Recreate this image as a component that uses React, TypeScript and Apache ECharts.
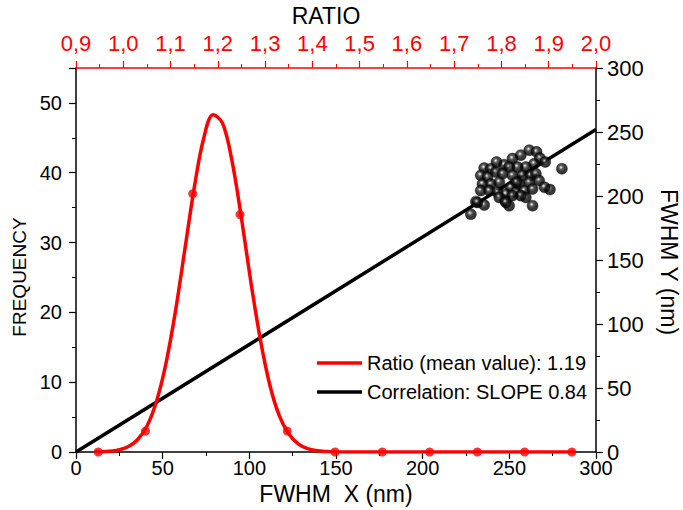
import React, { useEffect, useRef } from "react";
import * as echarts from "echarts";

// Histogram of ratio (red dots)
const ratioBins = [0.947, 1.047, 1.147, 1.247, 1.347, 1.448, 1.548, 1.648, 1.749, 1.849, 1.949];
const binFrequency = [0, 3, 37, 34, 3, 0, 0, 0, 0, 0, 0];

// Fitted curve (red line)
const fitRatio = [0.94, 0.95, 0.97, 0.99, 1.01, 1.03, 1.05, 1.07, 1.09, 1.11, 1.13, 1.15, 1.17, 1.19, 1.21, 1.23, 1.25, 1.27, 1.29, 1.31, 1.33, 1.35, 1.37, 1.39, 1.41, 1.43, 1.45, 1.5, 1.6, 1.7, 1.8, 1.9, 1.955];
const fitFrequency = [0.02, 0.03, 0.1, 0.29, 0.74, 1.75, 3.7, 7.2, 12.6, 20.0, 28.9, 37.8, 44.9, 48.3, 47.1, 41.7, 33.5, 24.3, 16.1, 9.6, 5.2, 2.6, 1.15, 0.47, 0.17, 0.06, 0.02, 0, 0, 0, 0, 0, 0];

// Scatter FWHM X vs FWHM Y (black spheres)
const fwhmX = [227.8, 230.7, 235.5, 247.6, 249.9, 263.4, 273.4, 280.3, 261.5, 265.7, 256.6, 251.8, 267.6, 270.7, 264.3, 247.0, 259.5, 254.7, 249.9, 235.5, 239.3, 242.2, 233.5, 237.4, 246.1, 251.8, 257.6, 262.4, 265.3, 234.5, 239.3, 244.2, 255.7, 267.2, 261.5, 233.5, 238.4, 243.2, 250.8, 253.7, 258.6, 263.4, 248.0, 259.5, 256.6, 244.2, 251.8, 231.6, 248.0, 254.1, 270.3, 242.6];
const fwhmY = [185.8, 195.6, 192.9, 196.3, 192.4, 192.4, 205.0, 221.3, 235.8, 234.5, 231.9, 229.2, 229.7, 226.6, 225.2, 224.4, 222.6, 222.6, 222.6, 221.8, 221.3, 218.7, 216.1, 214.7, 217.3, 216.1, 216.1, 216.1, 217.3, 209.4, 209.4, 210.8, 209.4, 212.1, 210.8, 204.2, 204.2, 202.9, 206.8, 202.9, 204.2, 205.5, 201.5, 198.9, 200.3, 198.9, 200.3, 195.0, 195.0, 210.8, 206.8, 226.6];

// Correlation line
const correlationX = [0, 300];
const correlationY = [0, 252];

// Tick labels
const ratioTicks = ["0,9", "1,0", "1,1", "1,2", "1,3", "1,4", "1,5", "1,6", "1,7", "1,8", "1,9", "2,0"];

const legendRatio = "Ratio (mean value): 1.19";
const legendCorr = "Correlation: SLOPE 0.84";

const FONT = "'Liberation Sans', Arial, sans-serif";

export default function App() {
  const ref = useRef<HTMLDivElement>(null);
  useEffect(() => {
    if (!ref.current) return;
    const chart = echarts.init(ref.current, null, { renderer: "svg" });
    const sphere = new echarts.graphic.RadialGradient(0.42, 0.38, 0.62, [
      { offset: 0, color: "#ffffff" },
      { offset: 0.12, color: "#a8a8a8" },
      { offset: 0.3, color: "#333333" },
      { offset: 0.58, color: "#080808" },
      { offset: 1, color: "#000000" },
    ]);
    const black = "#000";
    const red = "#ff0000";
    const labelStyle = { fontFamily: FONT, fontSize: 20, color: black };
    chart.setOption({
      animation: false,
      backgroundColor: "#fff",
      grid: { left: 76, right: 87, top: 68, bottom: 58, containLabel: false },
      xAxis: [
        {
          type: "value",
          position: "bottom",
          min: 0,
          max: 300,
          interval: 50,
          axisLine: { show: true, onZero: false, lineStyle: { color: black, width: 1.5 } },
          axisTick: { show: true, inside: false, length: 7, lineStyle: { color: black, width: 1.2 } },
          minorTick: { show: true, splitNumber: 2, length: 4, lineStyle: { color: black, width: 1 } },
          splitLine: { show: false },
          axisLabel: { ...labelStyle, margin: 6 },
        },
        {
          type: "value",
          position: "top",
          min: 0.9,
          max: 2.0,
          interval: 0.1,
          axisLine: { show: true, onZero: false, lineStyle: { color: red, width: 1.5 } },
          axisTick: { show: true, inside: false, length: 7, lineStyle: { color: red, width: 1.2 } },
          minorTick: { show: true, splitNumber: 2, length: 4, lineStyle: { color: red, width: 1 } },
          splitLine: { show: false },
          axisLabel: {
            fontFamily: FONT,
            fontSize: 22,
            color: red,
            margin: 14,
            formatter: (v: number) => {
              const i = Math.round((v - 0.9) * 10);
              return ratioTicks[i] ?? "";
            },
          },
        },
      ],
      yAxis: [
        {
          type: "value",
          position: "left",
          min: 0,
          max: 55,
          interval: 10,
          axisLine: { show: true, onZero: false, lineStyle: { color: black, width: 1.5 } },
          axisTick: { show: true, inside: false, length: 7, lineStyle: { color: black, width: 1.2 } },
          minorTick: { show: true, splitNumber: 2, length: 4, lineStyle: { color: black, width: 1 } },
          splitLine: { show: false },
          axisLabel: {
            ...labelStyle,
            margin: 14,
            formatter: (v: number) => (v % 10 === 0 ? String(v) : ""),
          },
        },
        {
          type: "value",
          position: "right",
          min: 0,
          max: 300,
          interval: 50,
          axisLine: { show: true, onZero: false, lineStyle: { color: black, width: 1.5 } },
          axisTick: { show: true, inside: false, length: 7, lineStyle: { color: black, width: 1.2 } },
          minorTick: { show: true, splitNumber: 2, length: 4, lineStyle: { color: black, width: 1 } },
          splitLine: { show: false },
          axisLabel: { ...labelStyle, fontSize: 22, margin: 11 },
        },
      ],
      series: [
        {
          type: "line",
          name: legendCorr,
          xAxisIndex: 0,
          yAxisIndex: 1,
          data: correlationX.map((x, i) => [x, correlationY[i]]),
          showSymbol: false,
          symbol: "none",
          lineStyle: { color: black, width: 3.5 },
          z: 2,
        },
        {
          type: "line",
          name: legendRatio,
          xAxisIndex: 1,
          yAxisIndex: 0,
          data: fitRatio.map((x, i) => [x, fitFrequency[i]]),
          smooth: 0.35,
          showSymbol: false,
          symbol: "none",
          lineStyle: { color: red, width: 3.5 },
          z: 3,
        },
        {
          type: "scatter",
          name: "bins",
          xAxisIndex: 1,
          yAxisIndex: 0,
          data: ratioBins.map((x, i) => [x, binFrequency[i]]),
          symbol: "circle",
          symbolSize: 9,
          itemStyle: { color: red },
          z: 4,
        },
        {
          type: "scatter",
          name: "fwhm",
          xAxisIndex: 0,
          yAxisIndex: 1,
          data: fwhmX.map((x, i) => [x, fwhmY[i]]),
          symbol: "circle",
          symbolSize: 11,
          itemStyle: { color: sphere, borderColor: "#000", borderWidth: 0.5 },
          z: 5,
        },
      ],
      graphic: [
        {
          type: "text",
          x: 326,
          y: 16,
          style: { text: "RATIO", fontFamily: FONT, fontSize: 23, fill: black, align: "center", verticalAlign: "middle" },
        },
        {
          type: "text",
          x: 336,
          y: 494,
          style: { text: "FWHM  X (nm)", fontFamily: FONT, fontSize: 23, fill: black, align: "center", verticalAlign: "middle" },
        },
        {
          type: "text",
          x: 19,
          y: 277,
          rotation: Math.PI / 2,
          style: { text: "FREQUENCY", fontFamily: FONT, fontSize: 19, fill: black, align: "center", verticalAlign: "middle" },
        },
        {
          type: "text",
          x: 669,
          y: 262,
          rotation: -Math.PI / 2,
          style: { text: "FWHM Y (nm)", fontFamily: FONT, fontSize: 23, fill: black, align: "center", verticalAlign: "middle" },
        },
        {
          type: "line",
          shape: { x1: 317, y1: 363, x2: 362, y2: 363 },
          style: { stroke: red, lineWidth: 3.5 },
        },
        {
          type: "text",
          x: 367,
          y: 363,
          style: { text: legendRatio, fontFamily: FONT, fontSize: 20, fill: black, align: "left", verticalAlign: "middle" },
        },
        {
          type: "line",
          shape: { x1: 317, y1: 392, x2: 362, y2: 392 },
          style: { stroke: black, lineWidth: 3.5 },
        },
        {
          type: "text",
          x: 367,
          y: 392,
          style: { text: legendCorr, fontFamily: FONT, fontSize: 20, fill: black, align: "left", verticalAlign: "middle" },
        },
      ],
    });
    return () => chart.dispose();
  }, []);
  return (
    <div
      ref={ref}
      style={{ position: "fixed", left: 0, top: 0, width: 683, height: 510, background: "#fff" }}
    />
  );
}
